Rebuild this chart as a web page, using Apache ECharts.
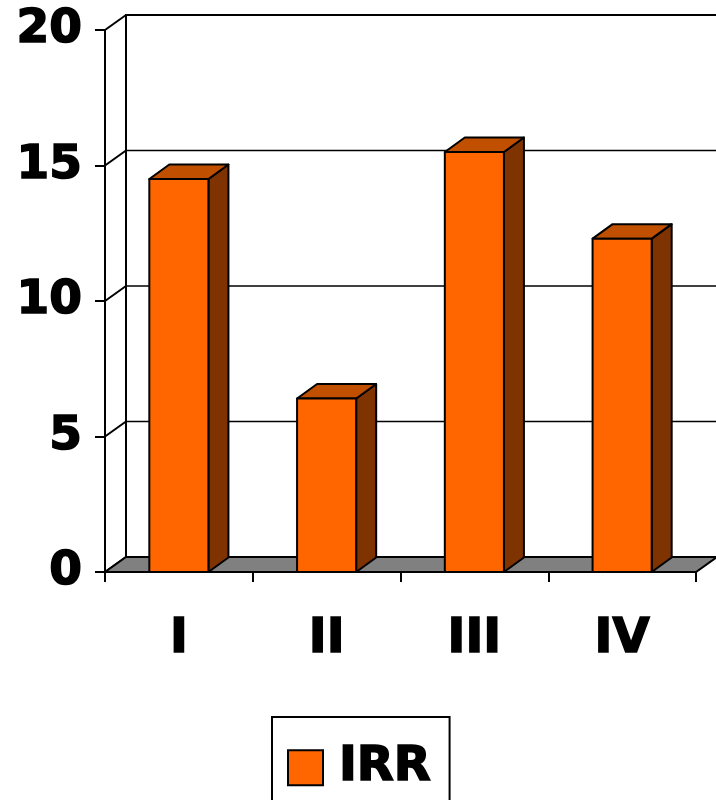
<!DOCTYPE html>
<html>
<head>
<meta charset="utf-8">
<script src="https://cdn.jsdelivr.net/npm/echarts@6/dist/echarts.min.js"></script>
<style>
  html, body { margin: 0; padding: 0; background: #fff; }
  #chart { width: 716px; height: 800px; }
</style>
</head>
<body>
<div id="chart"></div>
<script>
// IRR by quarter
const categories = ['I', 'II', 'III', 'IV'];
const irrValues = [14.5, 6.4, 15.5, 12.3];
const yTicks = [0, 5, 10, 15, 20];
const seriesName = 'IRR';

// Depth offset of the pseudo-3D box (pixels)
const DX = 21;
const DY = -15;
const BAR_DX = 20;
const BAR_DY = -14.5;

const FONT = 'DejaVu Sans';
const ORANGE = '#FF6600';
const ORANGE_TOP = '#C05000';
const ORANGE_SIDE = '#7F3300';
const FLOOR = '#808080';
const LW = 2;

// heavy black label text
const heavyText = { color: '#000', fontFamily: FONT, fontWeight: 'bold', textBorderColor: '#000', textBorderWidth: 1.6 };

const chart = echarts.init(document.getElementById('chart'), null, { renderer: 'canvas' });

function renderWalls(params, api) {
  const cs = params.coordSys;
  const x0 = cs.x;
  const x1 = cs.x + cs.width;
  const yb = api.coord([0, yTicks[0]])[1];
  const yt = api.coord([0, yTicks[yTicks.length - 1]])[1];
  const line = { stroke: '#000', lineWidth: LW, fill: null };
  const children = [];
  // back wall
  children.push({
    type: 'polygon',
    shape: { points: [[x0 + DX, yt + DY], [x1 + DX, yt + DY], [x1 + DX, yb + DY], [x0 + DX, yb + DY]] },
    style: { fill: '#fff', stroke: '#000', lineWidth: LW }
  });
  yTicks.forEach(function (v) {
    const y = api.coord([0, v])[1];
    // grid line on the back wall
    children.push({
      type: 'line',
      shape: { x1: x0 + DX, y1: y + DY, x2: x1 + DX, y2: y + DY },
      style: { stroke: '#000', lineWidth: 1.5 }
    });
    // diagonal on the side wall
    children.push({
      type: 'line',
      shape: { x1: x0, y1: y, x2: x0 + DX, y2: y + DY },
      style: line
    });
  });
  // floor
  children.push({
    type: 'polygon',
    shape: { points: [[x0, yb], [x1, yb], [x1 + DX, yb + DY], [x0 + DX, yb + DY]] },
    style: { fill: FLOOR, stroke: '#000', lineWidth: LW }
  });
  return { type: 'group', children: children };
}

function renderBar(params, api) {
  const idx = api.value(0);
  const val = api.value(1);
  const top = api.coord([idx, val]);
  const base = api.coord([idx, 0]);
  const w = api.size([1, 0])[0] * 0.4;
  const xl = top[0] - w / 2;
  const xr = top[0] + w / 2;
  const yt = top[1];
  const yb = base[1];
  const edge = { stroke: '#000', lineWidth: LW, lineJoin: 'round' };
  return {
    type: 'group',
    children: [
      {
        type: 'polygon',
        shape: { points: [[xr, yb], [xr + BAR_DX, yb + BAR_DY], [xr + BAR_DX, yt + BAR_DY], [xr, yt]] },
        style: Object.assign({ fill: ORANGE_SIDE }, edge)
      },
      {
        type: 'polygon',
        shape: { points: [[xl, yt], [xr, yt], [xr + BAR_DX, yt + BAR_DY], [xl + BAR_DX, yt + BAR_DY]] },
        style: Object.assign({ fill: ORANGE_TOP }, edge)
      },
      {
        type: 'rect',
        shape: { x: xl, y: yt, width: w, height: yb - yt },
        style: Object.assign({ fill: ORANGE }, edge)
      }
    ]
  };
}

const option = {
  animation: false,
  backgroundColor: '#fff',
  grid: { left: 105, right: 20, top: 30, bottom: 228, containLabel: false },
  xAxis: {
    type: 'category',
    data: categories,
    boundaryGap: true,
    axisLine: { show: true, lineStyle: { color: '#000', width: LW } },
    axisTick: { show: true, length: 10, interval: 0, lineStyle: { color: '#000', width: LW } },
    axisLabel: Object.assign({ interval: 0, margin: 44, fontSize: 48 }, heavyText),
    splitLine: { show: false }
  },
  yAxis: {
    type: 'value',
    min: 0, max: 20, interval: 5,
    axisLine: { show: true, lineStyle: { color: '#000', width: LW } },
    axisTick: { show: true, length: 10, lineStyle: { color: '#000', width: LW } },
    axisLabel: Object.assign({ margin: 23, fontSize: 47 }, heavyText),
    splitLine: { show: false }
  },
  legend: {
    left: 272, top: 717,
    orient: 'horizontal',
    padding: [26, 18, 26, 15],
    borderColor: '#000', borderWidth: LW,
    itemWidth: 35, itemHeight: 35,
    data: [{ name: seriesName, icon: 'rect', itemStyle: { color: ORANGE, borderColor: '#000', borderWidth: LW } }],
    textStyle: Object.assign({ fontSize: 48, padding: [0, 0, 0, 11] }, heavyText)
  },
  series: [
    {
      name: 'walls',
      type: 'custom',
      silent: true,
      z: 1,
      renderItem: renderWalls,
      data: [[0, 0]],
      encode: { x: 0, y: 1 }
    },
    {
      name: seriesName,
      type: 'custom',
      z: 3,
      itemStyle: { color: ORANGE, borderColor: '#000', borderWidth: LW },
      renderItem: renderBar,
      data: irrValues.map(function (v, i) { return [i, v]; }),
      encode: { x: 0, y: 1 }
    }
  ]
};

chart.setOption(option);
</script>
</body>
</html>
